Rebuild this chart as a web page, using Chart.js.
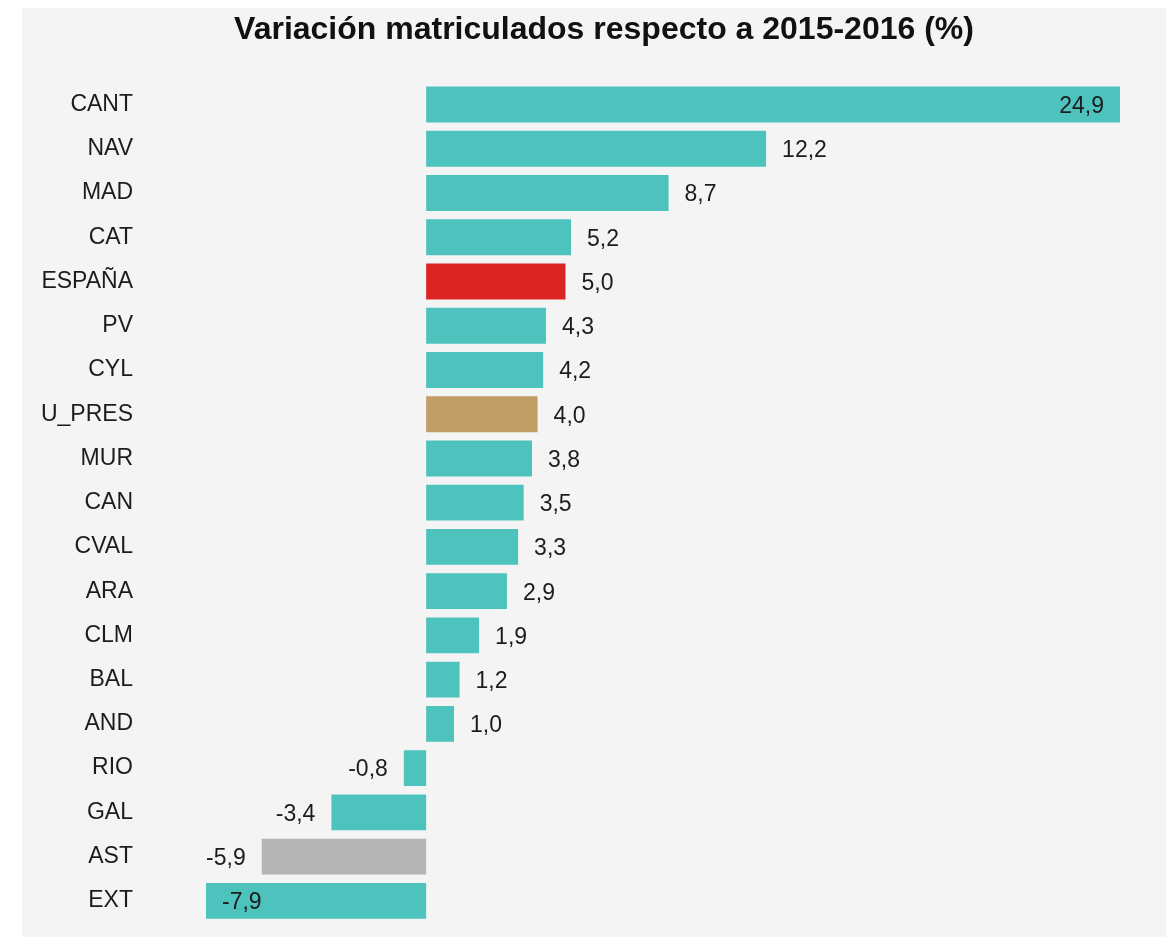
<!DOCTYPE html>
<html>
<head>
<meta charset="utf-8">
<script src="https://cdn.jsdelivr.net/npm/chart.js@4.4.0/dist/chart.umd.min.js"></script>
<style>
  body { margin: 0; background: #ffffff; }
  #wrap { position: absolute; left: 22px; top: 8px; width: 1144px; height: 929px; background: #f4f4f4; }
  canvas { display: block; }
</style>
</head>
<body>
<div id="wrap"><canvas id="matChart" width="1144" height="929"></canvas></div>
<script>
// regions, top to bottom
const regions = ['CANT', 'NAV', 'MAD', 'CAT', 'ESPAÑA', 'PV', 'CYL', 'U_PRES', 'MUR', 'CAN',
    'CVAL', 'ARA', 'CLM', 'BAL', 'AND', 'RIO', 'GAL', 'AST', 'EXT'];
// variation vs 2015-2016 (%)
const variation = [24.9, 12.2, 8.7, 5.2, 5.0, 4.3, 4.2, 4.0, 3.8, 3.5,
    3.3, 2.9, 1.9, 1.2, 1.0, -0.8, -3.4, -5.9, -7.9];

const teal = '#4ec3be';
// highlighted bars
const special = { 'ESPAÑA': '#dc2424', 'U_PRES': '#c09e66', 'AST': '#b5b5b5' };
const barColors = regions.map(r => special[r] || teal);

const labelFont = '23px "Liberation Sans", Arial, sans-serif';

// draws the values next to (or inside) each bar
const valueLabels = {
    id: 'valueLabels',
    afterLayout(chart) {
        // title sits a bit right of the canvas centre in the original
        chart.titleBlock.left += 23;
        chart.titleBlock.right += 23;
    },
    afterDatasetsDraw(chart) {
        const ctx = chart.ctx;
        const area = chart.chartArea;
        const meta = chart.getDatasetMeta(0);
        ctx.save();
        ctx.font = labelFont;
        ctx.fillStyle = '#1c1c1c';
        ctx.textBaseline = 'middle';
        meta.data.forEach((bar, i) => {
            const v = variation[i];
            const txt = v.toFixed(1).replace('.', ',');
            const w = ctx.measureText(txt).width;
            const gap = 16;
            const y = bar.y + 2;
            if (v >= 0) {
                if (bar.x + gap + w > area.right) {
                    ctx.textAlign = 'right';
                    ctx.fillText(txt, bar.x - gap, y);
                } else {
                    ctx.textAlign = 'left';
                    ctx.fillText(txt, bar.x + gap, y);
                }
            } else {
                if (bar.x - gap - w < area.left) {
                    ctx.textAlign = 'left';
                    ctx.fillText(txt, bar.x + gap, y);
                } else {
                    ctx.textAlign = 'right';
                    ctx.fillText(txt, bar.x - gap, y);
                }
            }
        });
        ctx.restore();
    }
};

const ctx = document.getElementById('matChart').getContext('2d');
const chart = new Chart(ctx, {
    type: 'bar',
    data: {
        labels: regions,
        datasets: [{
            data: variation,
            backgroundColor: barColors,
            borderWidth: 0,
            barPercentage: 0.81,
            categoryPercentage: 1.0
        }]
    },
    options: {
        indexAxis: 'y',
        responsive: false,
        animation: false,
        layout: { padding: { left: 20, right: 46, top: 0, bottom: 14 } },
        plugins: {
            legend: { display: false },
            tooltip: { enabled: false },
            title: {
                display: true,
                text: 'Variación matriculados respecto a 2015-2016 (%)',
                color: '#111111',
                font: { family: '"Liberation Sans", Arial, sans-serif', size: 32, weight: 'bold', lineHeight: 1.2 },
                padding: { top: 3, bottom: 33 }
            }
        },
        scales: {
            x: {
                min: -7.9,
                max: 24.9,
                display: false
            },
            y: {
                grid: { display: false, drawTicks: false },
                border: { display: false },
                ticks: {
                    color: '#1c1c1c',
                    font: { family: '"Liberation Sans", Arial, sans-serif', size: 23 },
                    padding: 73
                },
                afterFit: function (scale) {
                    scale.width = 164;
                    // tick padding would otherwise shrink the plot vertically
                    scale.paddingTop = 0;
                    scale.paddingBottom = 0;
                }
            }
        }
    },
    plugins: [valueLabels]
});
</script>
</body>
</html>
